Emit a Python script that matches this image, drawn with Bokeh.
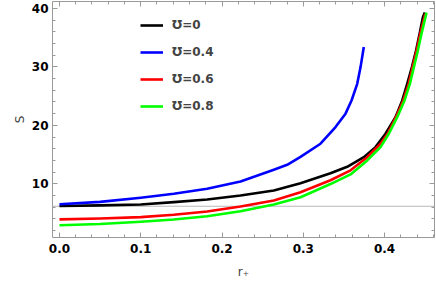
from bokeh.plotting import figure
from bokeh.models import (Range1d, LinearAxis, Span, Legend, LegendItem,
                          SingleIntervalTicker, CustomJSTickFormatter, PrintfTickFormatter)
from bokeh.embed import file_html
from bokeh.resources import INLINE

# ---- data ----
r_u0 = [0.0, 0.05, 0.1, 0.1407, 0.1817, 0.2228, 0.2638, 0.2966, 0.3335, 0.3541,
        0.3745, 0.3889, 0.4012, 0.4135, 0.4218, 0.4279, 0.4337, 0.4388, 0.4432,
        0.4472, 0.4496]
S_u0 = [6.2, 6.3, 6.46, 6.85, 7.3, 8.0, 8.85, 10.1, 11.8, 12.9,
        14.55, 16.27, 18.56, 21.4, 24.26, 27.1, 29.97, 32.8, 35.7,
        38.5, 39.3]

r_u04 = [0.0, 0.05, 0.1, 0.1407, 0.1817, 0.2228, 0.2638, 0.2802, 0.2966, 0.3212,
         0.3397, 0.352, 0.3594, 0.3664, 0.3705, 0.3745]
S_u04 = [6.5, 6.9, 7.6, 8.29, 9.14, 10.4, 12.4, 13.25, 14.6, 16.85,
         19.7, 22.0, 24.26, 27.1, 29.97, 33.4]

r_u06 = [0.0, 0.05, 0.1, 0.1407, 0.1817, 0.2228, 0.2638, 0.2966, 0.3335, 0.3582,
         0.3787, 0.3951, 0.4038, 0.4141, 0.4231, 0.4297, 0.4346, 0.4395, 0.444,
         0.4502]
S_u06 = [3.9, 4.05, 4.28, 4.69, 5.26, 6.1, 7.14, 8.56, 10.6, 12.3,
         14.55, 16.85, 18.56, 21.4, 24.26, 27.1, 29.97, 32.8, 35.7,
         39.1]

r_u08 = [0.0, 0.05, 0.1, 0.1407, 0.1817, 0.2228, 0.2638, 0.2966, 0.3335, 0.3582,
         0.3787, 0.3951, 0.4053, 0.4156, 0.4246, 0.4312, 0.4361, 0.441, 0.4455,
         0.4517]
S_u08 = [2.9, 3.1, 3.5, 3.89, 4.45, 5.3, 6.45, 7.7, 9.95, 11.6,
         14.0, 16.27, 18.56, 21.4, 24.26, 27.1, 29.97, 32.8, 35.7,
         39.3]

labels = ["\u01b1=0", "\u01b1=0.4", "\u01b1=0.6", "\u01b1=0.8"]
colors = ["#000000", "#0000ff", "#ff0000", "#00ff00"]
S_ref = 6.15
x_label = "r\u208a"
y_label = "S"

# ---- figure ----
p = figure(width=436, height=283, output_backend="svg", toolbar_location=None,
           x_range=Range1d(-0.0086, 0.4615), y_range=Range1d(0.8, 41.2),
           min_border_left=52, min_border_right=2, min_border_top=1,
           min_border_bottom=46)
p.grid.visible = False
p.outline_line_color = None
p.background_fill_color = "white"
p.border_fill_color = "white"

AX = "#9a9a9a"

def style_axis(ax, show_labels):
    ax.axis_line_color = AX
    ax.major_tick_line_color = AX
    ax.minor_tick_line_color = AX
    ax.major_tick_in = 5
    ax.major_tick_out = 0
    ax.minor_tick_in = 3
    ax.minor_tick_out = 0
    if show_labels:
        ax.major_label_text_font = "DejaVu Sans"
        ax.major_label_text_font_style = "bold"
        ax.major_label_text_font_size = "12px"
        ax.major_label_text_color = "black"
        ax.axis_label_text_font = "DejaVu Sans"
        ax.axis_label_text_font_style = "normal"
        ax.axis_label_text_font_size = "12px"
        ax.axis_label_text_color = "#444444"
    else:
        ax.formatter = CustomJSTickFormatter(code="return ''")
        ax.major_label_standoff = 0

p.xaxis.ticker = SingleIntervalTicker(interval=0.1, num_minor_ticks=5)
p.yaxis.ticker = SingleIntervalTicker(interval=10, num_minor_ticks=5)
p.xaxis.formatter = PrintfTickFormatter(format="%.1f")
style_axis(p.xaxis[0], True)
style_axis(p.yaxis[0], True)
p.xaxis.axis_label = x_label
p.yaxis.axis_label = y_label
p.xaxis.major_label_standoff = 6
p.yaxis.major_label_standoff = 4
p.xaxis.axis_label_standoff = 9
p.yaxis.axis_label_standoff = 2

top = LinearAxis(ticker=SingleIntervalTicker(interval=0.1, num_minor_ticks=5))
right = LinearAxis(ticker=SingleIntervalTicker(interval=10, num_minor_ticks=5))
style_axis(top, False)
style_axis(right, False)
p.add_layout(top, "above")
p.add_layout(right, "right")

p.add_layout(Span(location=S_ref, dimension="width", line_color="#b8b8b8",
                  line_width=1, level="underlay"))

series = [(r_u0, S_u0), (r_u04, S_u04), (r_u06, S_u06), (r_u08, S_u08)]
rends = []
for (rx, sy), c in zip(series, colors):
    rends.append(p.line(rx, sy, line_color=c, line_width=2.6, line_join="round"))

legend = Legend(items=[LegendItem(label=l, renderers=[g]) for l, g in zip(labels, rends)],
                location=(88, 121), glyph_width=23, glyph_height=20, label_height=20,
                spacing=7, padding=0, margin=0, label_standoff=9,
                border_line_color=None, background_fill_alpha=0,
                label_text_font="DejaVu Sans", label_text_font_style="bold",
                label_text_font_size="12px")
p.add_layout(legend)

open("out.html", "w").write(file_html(p, INLINE))
